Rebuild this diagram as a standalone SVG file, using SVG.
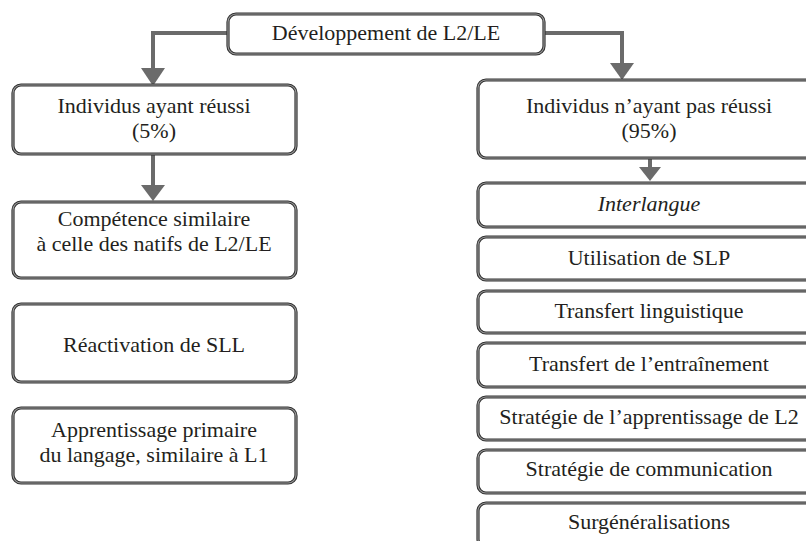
<svg xmlns="http://www.w3.org/2000/svg" width="806" height="541" viewBox="0 0 806 541">
<style>
.bo{fill:#fff;stroke:#333;stroke-width:3.2}
.bi{fill:none;stroke:#9a9a9a;stroke-width:1.1}
.t text{font-family:"Liberation Serif","DejaVu Serif",serif;font-size:22px;fill:#231f20;text-anchor:middle}
.t .it{font-style:italic}
.ln{fill:none;stroke:#6b6b6b;stroke-width:4}
.ah{fill:#6b6b6b}
</style>
<rect width="806" height="541" fill="#fff"/>
<g id="connectors">
<path class="ln" d="M228,33 H153 V70"/>
<polygon class="ah" points="141,68 165,68 153,86"/>
<path class="ln" d="M544,33 H622 V65"/>
<polygon class="ah" points="610,63 634,63 622,80"/>
<path class="ln" d="M153,155 V187"/>
<polygon class="ah" points="141,185 165,185 153,201"/>
<path class="ln" d="M650,158 V169"/>
<polygon class="ah" points="639,167 661,167 650,181"/>
</g>
<g class="t">
<g id="n-root"><rect class="bo" x="228" y="14" width="316" height="40" rx="8"/><rect class="bi" x="228" y="14" width="316" height="40" rx="8"/><text x="386" y="40">Développement de L2/LE</text></g>
<g id="n-success"><rect class="bo" x="13" y="85" width="283" height="69" rx="8"/><rect class="bi" x="13" y="85" width="283" height="69" rx="8"/><text x="154" y="113">Individus ayant réussi</text><text x="154" y="138">(5%)</text></g>
<g id="n-competence"><rect class="bo" x="13" y="202" width="283" height="76" rx="8"/><rect class="bi" x="13" y="202" width="283" height="76" rx="8"/><text x="154" y="226">Compétence similaire</text><text x="154" y="251">à celle des natifs de L2/LE</text></g>
<g id="n-reactivation"><rect class="bo" x="13" y="304" width="283" height="78" rx="8"/><rect class="bi" x="13" y="304" width="283" height="78" rx="8"/><text x="154" y="352">Réactivation de SLL</text></g>
<g id="n-apprentissage"><rect class="bo" x="13" y="408" width="283" height="75" rx="8"/><rect class="bi" x="13" y="408" width="283" height="75" rx="8"/><text x="154" y="437">Apprentissage primaire</text><text x="154" y="462">du langage, similaire à L1</text></g>
<g id="n-fail"><rect class="bo" x="478" y="80" width="342" height="78" rx="8"/><rect class="bi" x="478" y="80" width="342" height="78" rx="8"/><text x="649" y="113">Individus n’ayant pas réussi</text><text x="649" y="138">(95%)</text></g>
<g id="n-interlangue"><rect class="bo" x="478" y="183" width="342" height="44" rx="8"/><rect class="bi" x="478" y="183" width="342" height="44" rx="8"/><text class="it" x="649" y="211">Interlangue</text></g>
<g id="n-slp"><rect class="bo" x="478" y="237" width="342" height="43" rx="8"/><rect class="bi" x="478" y="237" width="342" height="43" rx="8"/><text x="649" y="265">Utilisation de SLP</text></g>
<g id="n-transfert-ling"><rect class="bo" x="478" y="291" width="342" height="42" rx="8"/><rect class="bi" x="478" y="291" width="342" height="42" rx="8"/><text x="649" y="318">Transfert linguistique</text></g>
<g id="n-transfert-ent"><rect class="bo" x="478" y="343" width="342" height="44" rx="8"/><rect class="bi" x="478" y="343" width="342" height="44" rx="8"/><text x="649" y="371">Transfert de l’entraînement</text></g>
<g id="n-strat-app"><rect class="bo" x="478" y="397" width="342" height="43" rx="8"/><rect class="bi" x="478" y="397" width="342" height="43" rx="8"/><text x="649" y="424">Stratégie de l’apprentissage de L2</text></g>
<g id="n-strat-comm"><rect class="bo" x="478" y="450" width="342" height="43" rx="8"/><rect class="bi" x="478" y="450" width="342" height="43" rx="8"/><text x="649" y="476">Stratégie de communication</text></g>
<g id="n-surgen"><rect class="bo" x="478" y="503" width="342" height="44" rx="8"/><rect class="bi" x="478" y="503" width="342" height="44" rx="8"/><text x="649" y="529">Surgénéralisations</text></g>
</g>
</svg>
